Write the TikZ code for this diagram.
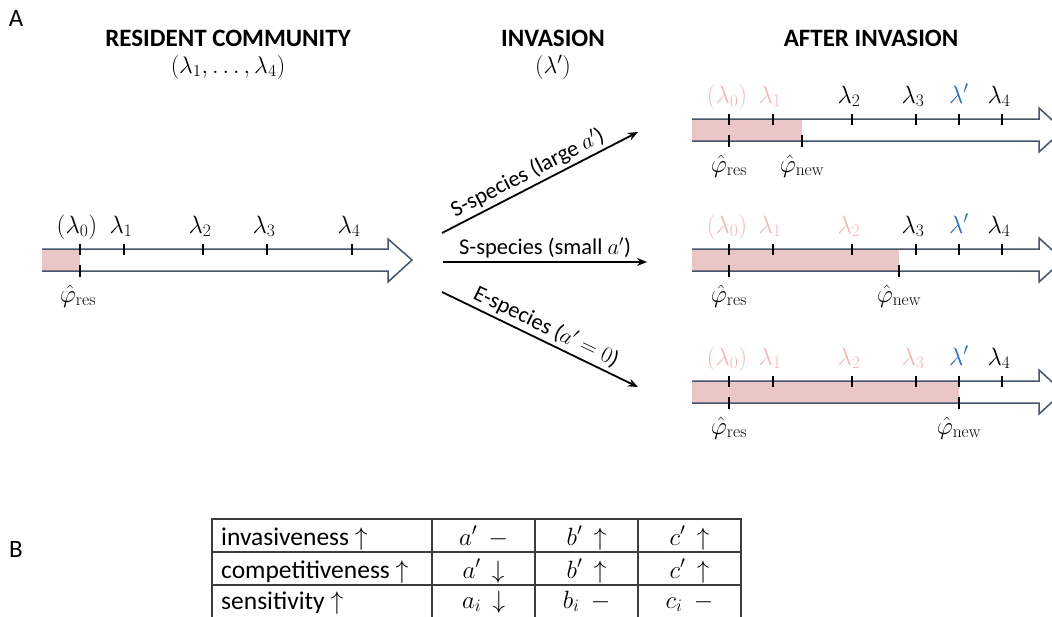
\documentclass[tikz,border=0pt]{standalone}
\usepackage{fix-cm}
\usepackage[no-math]{fontspec}
\setmainfont{Carlito}
\usetikzlibrary{arrows.meta}
\definecolor{axisblue}{RGB}{68,84,106}
\definecolor{shadepink}{RGB}{234,198,198}
\definecolor{fadedpink}{RGB}{240,184,184}
\definecolor{lamblue}{RGB}{46,108,190}
\definecolor{gridgray}{RGB}{60,60,60}
\begin{document}
\begin{tikzpicture}[x=1pt,y=-1pt,
  axisline/.style={draw=axisblue,line width=1.5pt,line join=miter},
  tickmark/.style={draw=black,line width=2pt},
  shadebox/.style={fill=shadepink,draw=none},
  lab/.style={font=\fontsize{25}{29}\selectfont,inner sep=0pt,anchor=base},
  faded/.style={lab,text=fadedpink},
  newlam/.style={lab,text=lamblue},
  heading/.style={font=\fontsize{25}{29}\selectfont\bfseries,inner sep=0pt},
  subhead/.style={font=\fontsize{24}{28}\selectfont,inner sep=0pt},
  panel/.style={font=\fontsize{25}{29}\selectfont,inner sep=0pt},
  flow/.style={draw=black,line width=1.8pt,-{Stealth[length=10pt,width=8pt]}},
  flowlab/.style={font=\fontsize{22.5}{26}\selectfont,inner sep=3pt},
  cell/.style={font=\fontsize{25}{30}\selectfont,inner sep=0pt,anchor=base},
  rowlab/.style={font=\fontsize{25.5}{30}\selectfont,inner sep=0pt,anchor=base west},
  grid/.style={draw=gridgray,line width=1.2pt}
]
\clip (0,0) rectangle (1052,616);
\fill[white] (0,0) rectangle (1052,616);

% panel letters and headings
\node[panel] (pA) at (16,18) {A};
\node[panel] (pB) at (16,549) {B};
\node[heading] (h1) at (228,38) {RESIDENT COMMUNITY};
\node[subhead] (s1) at (228,67) {$(\lambda_1,\ldots,\lambda_4)$};
\node[heading] (h2) at (553,38) {INVASION};
\node[subhead] (s2) at (553,67) {$(\lambda')$};
\node[heading] (h3) at (871,38) {AFTER INVASION};

% resident community axis
\fill[shadebox] (42,249) rectangle (80,271);
\draw[axisline] (42,249) -- (388,249) -- (388,239) -- (412,260) -- (388,282) -- (388,271) -- (42,271);
\foreach \x in {80,124,203,267,352} \draw[tickmark] (\x,244) -- (\x,255);
\draw[tickmark] (80,265) -- (80,277);
\node[lab] (r0) at (77,233) {$(\lambda_0)$};
\node[lab] (r1) at (121,233) {$\lambda_1$};
\node[lab] (r2) at (200,233) {$\lambda_2$};
\node[lab] (r3) at (264,233) {$\lambda_3$};
\node[lab] (r4) at (349,233) {$\lambda_4$};
\node[lab] (rp) at (78,302) {$\hat{\varphi}_{\mathrm{res}}$};

% invasion arrows
\coordinate (u1) at (442,233); \coordinate (u2) at (638,132);
\coordinate (m1) at (443,262); \coordinate (m2) at (647,262);
\coordinate (d1) at (442,292); \coordinate (d2) at (638,387);
\draw[flow] (u1) -- (u2) node[flowlab,pos=0.47,sloped,above] (ul) {S-species (large $a'$)};
\draw[flow] (m1) -- (m2) node[flowlab,pos=0.5,above] (ml) {S-species (small $a'$)};
\draw[flow] (d1) -- (d2) node[flowlab,pos=0.5,sloped,above] (dl) {E-species ($a'=0$)};

% after invasion: axis 1 (large a')
\fill[shadebox] (692,119) rectangle (802,141);
\draw[axisline] (692,119) -- (1039,119) -- (1039,108) -- (1063,130) -- (1039,152) -- (1039,141) -- (692,141);
\foreach \x in {729,773,852,916,959,1002} \draw[tickmark] (\x,114) -- (\x,125);
\foreach \x in {729,802} \draw[tickmark] (\x,135) -- (\x,147);
\node[faded] (a0) at (727,103) {$(\lambda_0)$};
\node[faded] (a1) at (770,103) {$\lambda_1$};
\node[lab] (a2) at (849,103) {$\lambda_2$};
\node[lab] (a3) at (913,103) {$\lambda_3$};
\node[newlam] (ap) at (959,103) {$\lambda'$};
\node[lab] (a4) at (999,103) {$\lambda_4$};
\node[lab] (ar) at (729,172) {$\hat{\varphi}_{\mathrm{res}}$};
\node[lab] (an) at (802,172) {$\hat{\varphi}_{\mathrm{new}}$};

% axis 2 (small a')
\fill[shadebox] (692,249) rectangle (899,271);
\draw[axisline] (692,249) -- (1039,249) -- (1039,238) -- (1063,260) -- (1039,282) -- (1039,271) -- (692,271);
\foreach \x in {729,773,852,916,959,1002} \draw[tickmark] (\x,244) -- (\x,255);
\foreach \x in {729,899} \draw[tickmark] (\x,265) -- (\x,277);
\node[faded] (b0) at (727,233) {$(\lambda_0)$};
\node[faded] (b1) at (770,233) {$\lambda_1$};
\node[faded] (b2) at (849,233) {$\lambda_2$};
\node[lab] (b3) at (913,233) {$\lambda_3$};
\node[newlam] (bp) at (959,233) {$\lambda'$};
\node[lab] (b4) at (999,233) {$\lambda_4$};
\node[lab] (br) at (729,302) {$\hat{\varphi}_{\mathrm{res}}$};
\node[lab] (bn) at (899,302) {$\hat{\varphi}_{\mathrm{new}}$};

% axis 3 (a' = 0)
\fill[shadebox] (692,381) rectangle (959,403);
\draw[axisline] (692,381) -- (1039,381) -- (1039,370) -- (1063,392) -- (1039,414) -- (1039,403) -- (692,403);
\foreach \x in {729,773,852,916,959,1002} \draw[tickmark] (\x,376) -- (\x,387);
\foreach \x in {729,959} \draw[tickmark] (\x,397) -- (\x,409);
\node[faded] (c0) at (727,365) {$(\lambda_0)$};
\node[faded] (c1) at (770,365) {$\lambda_1$};
\node[faded] (c2) at (849,365) {$\lambda_2$};
\node[faded] (c3) at (913,365) {$\lambda_3$};
\node[newlam] (cp) at (959,365) {$\lambda'$};
\node[lab] (c4) at (999,365) {$\lambda_4$};
\node[lab] (cr) at (729,434) {$\hat{\varphi}_{\mathrm{res}}$};
\node[lab] (cn) at (959,434) {$\hat{\varphi}_{\mathrm{new}}$};

% table (bottom edge at the picture's edge)
\draw[grid] (212,519) rectangle (741,618);
\draw[grid] (212,552) -- (741,552);
\draw[grid] (212,585) -- (741,585);
\foreach \x in {432,535,638} \draw[grid] (\x,519) -- (\x,618);
\node[rowlab] (t1) at (221,545) {invasiveness $\uparrow$};
\node[rowlab] (t2) at (221,578) {competitiveness $\uparrow$};
\node[rowlab] (t3) at (221,609) {sensitivity $\uparrow$};
\node[cell] (t11) at (483.5,545) {$a'\ \ {-}$};
\node[cell] (t12) at (586.5,545) {$b'\ \ {\uparrow}$};
\node[cell] (t13) at (689.5,545) {$c'\ \ {\uparrow}$};
\node[cell] (t21) at (483.5,578) {$a'\ \ {\downarrow}$};
\node[cell] (t22) at (586.5,578) {$b'\ \ {\uparrow}$};
\node[cell] (t23) at (689.5,578) {$c'\ \ {\uparrow}$};
\node[cell] (t31) at (483.5,608) {$a_i\ \ {\downarrow}$};
\node[cell] (t32) at (586.5,608) {$b_i\ \ {-}$};
\node[cell] (t33) at (689.5,608) {$c_i\ \ {-}$};
\end{tikzpicture}
\end{document}
